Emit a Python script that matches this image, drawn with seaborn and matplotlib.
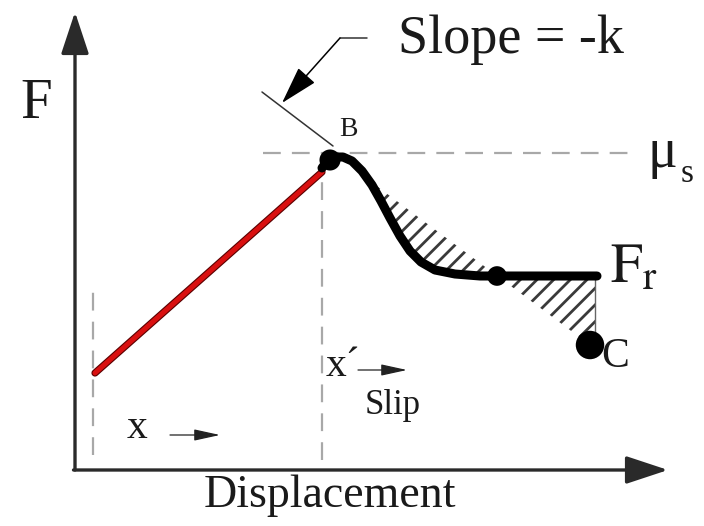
import numpy as np
import seaborn as sns
import matplotlib.pyplot as plt

sns.set_style('white')
plt.rcParams['font.family'] = ['Liberation Serif', 'DejaVu Serif']
plt.rcParams['mathtext.fontset'] = 'stix'
plt.rcParams['hatch.linewidth'] = 2.0

# loading branch (red) and slip-weakening curve (black), schematic units
load_x = [20, 247]
load_y = [97, 298]
curve_x = [247, 253, 260, 268, 277, 287, 297, 306, 315, 325, 335, 346, 360, 380, 405, 422, 522]
curve_y = [302, 310, 313, 313, 309, 299, 285, 269, 252, 234, 219, 208, 200, 196, 194, 194, 194]
# straight line B -> C with slope -k
chord_x = [260, 515]
chord_y = [315, 125]
tangent_x = [187, 258]
tangent_y = [378, 324]
# marked points: B, Fr crossing, C
pts_x = [255, 422, 515]
pts_y = [310, 194, 125]
pts_size = [230, 200, 420]
mu_s = 317
x_slip = 247
x_start = 18

fig = plt.figure(figsize=(7.04, 5.26), dpi=100)
ax = fig.add_axes([0, 0, 1, 1])
ax.set_xlim(-75, 629)
ax.set_ylim(-56, 470)
ax.axis('off')

# axes arrows
axc = '#2a2a2a'
ax.annotate('', xy=(0, 458), xytext=(0, 0),
            arrowprops=dict(arrowstyle='-|>,head_length=2.6,head_width=0.86', lw=2.4,
                            color=axc, shrinkA=0, shrinkB=0))
ax.annotate('', xy=(593, 0), xytext=(-1.5, 0),
            arrowprops=dict(arrowstyle='-|>,head_length=2.6,head_width=0.86', lw=2.4,
                            color=axc, shrinkA=0, shrinkB=0))

# dashed guides
dash = dict(color='#a8a8a8', lw=1.6, ls=(0, (8, 5)), zorder=1)
ax.plot([188, 562], [mu_s, mu_s], **dash)
ax.plot([x_slip, x_slip], [10, 310], **dash)
ax.plot([x_start, x_start], [15, 183], **dash)

# hatched areas between curve and slope line
xs = np.linspace(295, 520, 300)
cy = np.interp(xs, curve_x, curve_y)
ky = chord_y[0] + (xs - chord_x[0]) * (chord_y[1] - chord_y[0]) / (chord_x[1] - chord_x[0])
ax.fill_between(xs, cy, ky, facecolor='none', edgecolor='#3a3a3a', hatch='//', lw=0, zorder=2)
ax.plot([520, 520], [194, ky[-1]], color='#666666', lw=1.0, zorder=2)

# tangent slope line
sns.lineplot(x=tangent_x, y=tangent_y, ax=ax, color='#333333', lw=1.1, sort=False)

# loading branch
sns.lineplot(x=load_x, y=load_y, ax=ax, color='#5a0000', lw=5.2, sort=False, zorder=3)
sns.lineplot(x=load_x, y=load_y, ax=ax, color='#d91010', lw=3.6, sort=False, zorder=3)

# weakening curve
sns.lineplot(x=curve_x, y=curve_y, ax=ax, color='black', lw=6.5, sort=False, zorder=4)
sns.scatterplot(x=pts_x, y=pts_y, size=pts_size, sizes=(200, 420), color='black',
                ax=ax, legend=False, zorder=5, linewidth=0)

# leader arrow to the slope line
ax.plot([292, 265], [432, 432], color='#333333', lw=1.1)
ax.annotate('', xy=(207, 367), xytext=(265, 432),
            arrowprops=dict(arrowstyle='-|>,head_length=2.4,head_width=0.7', lw=1.1,
                            color='black', shrinkA=0, shrinkB=0))

# small direction arrows
for x0, x1, yy in [(95, 145, 35), (283, 332, 100)]:
    ax.annotate('', xy=(x1, yy), xytext=(x0, yy),
                arrowprops=dict(arrowstyle='-|>,head_length=1.6,head_width=0.35', lw=0.9,
                                color='#222222', shrinkA=0, shrinkB=0))

tc = '#1a1a1a'
ax.text(436, 430, 'Slope = -k', fontsize=39, ha='center', va='center', color=tc)
ax.text(-39, 366, 'F', fontsize=41, ha='center', va='center', color=tc)
ax.text(273, 341, 'B', fontsize=20, ha='center', va='center', color=tc)
ax.text(573, 303, '\u03bc', fontsize=40, ha='left', va='baseline', color=tc)
ax.text(606, 288, 's', fontsize=24, ha='left', va='baseline', color=tc)
ax.text(535, 188, r'$\mathrm{F_r}$', fontsize=41, ha='left', va='baseline', color=tc)
ax.text(540, 113, 'C', fontsize=30, ha='center', va='center', color=tc)
ax.text(62, 42, 'x', fontsize=30, ha='center', va='center', color=tc)
ax.text(268, 104, 'x\u00b4', fontsize=30, ha='center', va='center', color=tc)
ax.text(318, 56, 'Slip', fontsize=25, ha='center', va='baseline', color=tc)
ax.text(255, -26, 'Displacement', fontsize=33, ha='center', va='center', color=tc)

fig.savefig('out.png', dpi=100)
